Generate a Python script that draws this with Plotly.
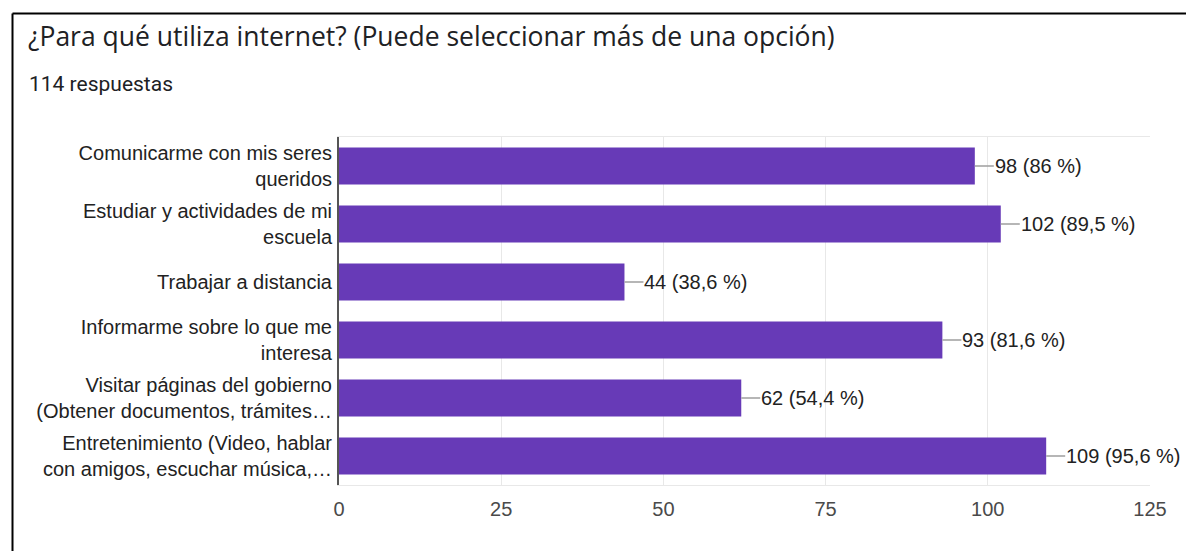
import plotly.graph_objects as go

# ── Data ──────────────────────────────────────────────────────────────────────
CATEGORIES = [
    "Comunicarme con mis seres<br>queridos",
    "Estudiar y actividades de mi<br>escuela",
    "Trabajar a distancia",
    "Informarme sobre lo que me<br>interesa",
    "Visitar páginas del gobierno<br>(Obtener documentos, trámites…",
    "Entretenimiento (Video, hablar<br>con amigos, escuchar música,…",
]
COUNTS = [98, 102, 44, 93, 62, 109]
PERCENTS = ["86", "89,5", "38,6", "81,6", "54,4", "95,6"]
X_TICKS = [0, 25, 50, 75, 100, 125]

TITLE = "¿Para qué utiliza internet? (Puede seleccionar más de una opción)"
SUBTITLE = "114 respuestas"

# ── Style ─────────────────────────────────────────────────────────────────────
C_BAR = "#673ab7"
C_TEXT = "#222222"
C_TICK = "#4a4a4a"
C_GRID = "#e8e8e8"
FONT = "Liberation Sans, Arial, sans-serif"

OFF = 8                      # page body margin around the figure div
W, H = 1194 - OFF, 551 - OFF
L, R, T, B = 339 - OFF, 44, 137 - OFF, 66
PW, PH = W - L - R, H - T - B

fig = go.Figure(go.Bar(
    x=COUNTS,
    y=CATEGORIES,
    orientation="h",
    width=0.64,
    marker=dict(color=C_BAR, line=dict(width=0)),
    hoverinfo="skip",
))

# value labels with a short grey leader line
for cat, n, p in zip(CATEGORIES, COUNTS, PERCENTS):
    fig.add_annotation(
        x=n, y=cat, xref="x", yref="y",
        text=f"{n} ({p} %)",
        showarrow=True, arrowhead=0, arrowwidth=1.5, arrowcolor="#9e9e9e",
        ax=19, ay=0, xanchor="left", yanchor="middle",
        font=dict(family=FONT, size=20, color=C_TEXT),
        standoff=0, startstandoff=0, borderpad=0,
    )

fig.add_annotation(
    text=SUBTITLE, xref="paper", yref="paper",
    x=(27 - OFF - L) / PW, y=(H - B - (84 - OFF)) / PH,
    xanchor="left", yanchor="middle",
    showarrow=False,
    font=dict(family="Roboto, sans-serif", size=21, color="#202124"),
)

# screenshot frame (top and left edges)
fx = (12.5 - OFF - L) / PW
fy = (H - B - (13.5 - OFF)) / PH
fig.add_shape(type="line", xref="paper", yref="paper", x0=fx, x1=(W - L) / PW + 0.01,
              y0=fy, y1=fy, line=dict(color="#000000", width=2))
fig.add_shape(type="line", xref="paper", yref="paper", x0=fx, x1=fx,
              y0=fy, y1=-B / PH - 0.01, line=dict(color="#000000", width=2))

fig.update_layout(
    width=W, height=H,
    paper_bgcolor="#ffffff",
    plot_bgcolor="#ffffff",
    margin=dict(l=L, r=R, t=T, b=B, pad=0),
    showlegend=False,
    bargap=0.36,
    title=dict(
        text=TITLE, xref="container", yref="container",
        x=(28 - OFF) / W, y=1 - (37 - OFF) / H, xanchor="left", yanchor="middle",
        font=dict(family="Open Sans, sans-serif", size=26.5, color="#202124"),
    ),
    xaxis=dict(
        range=[0, 125],
        tickvals=X_TICKS,
        showgrid=True, gridcolor=C_GRID, gridwidth=1,
        zeroline=False,
        showline=True, mirror=True, linecolor=C_GRID, linewidth=1,
        ticks="outside", ticklen=6, tickcolor="rgba(0,0,0,0)",
        tickfont=dict(family=FONT, size=20, color=C_TICK),
        fixedrange=True,
    ),
    yaxis=dict(
        autorange="reversed",
        showgrid=False,
        zeroline=False,
        showline=True, linecolor="#555555", linewidth=2,
        ticks="outside", ticklen=1, tickcolor="rgba(0,0,0,0)",
        tickfont=dict(family=FONT, size=20, color=C_TEXT),
        fixedrange=True,
    ),
)

fig.write_html("out.html")
